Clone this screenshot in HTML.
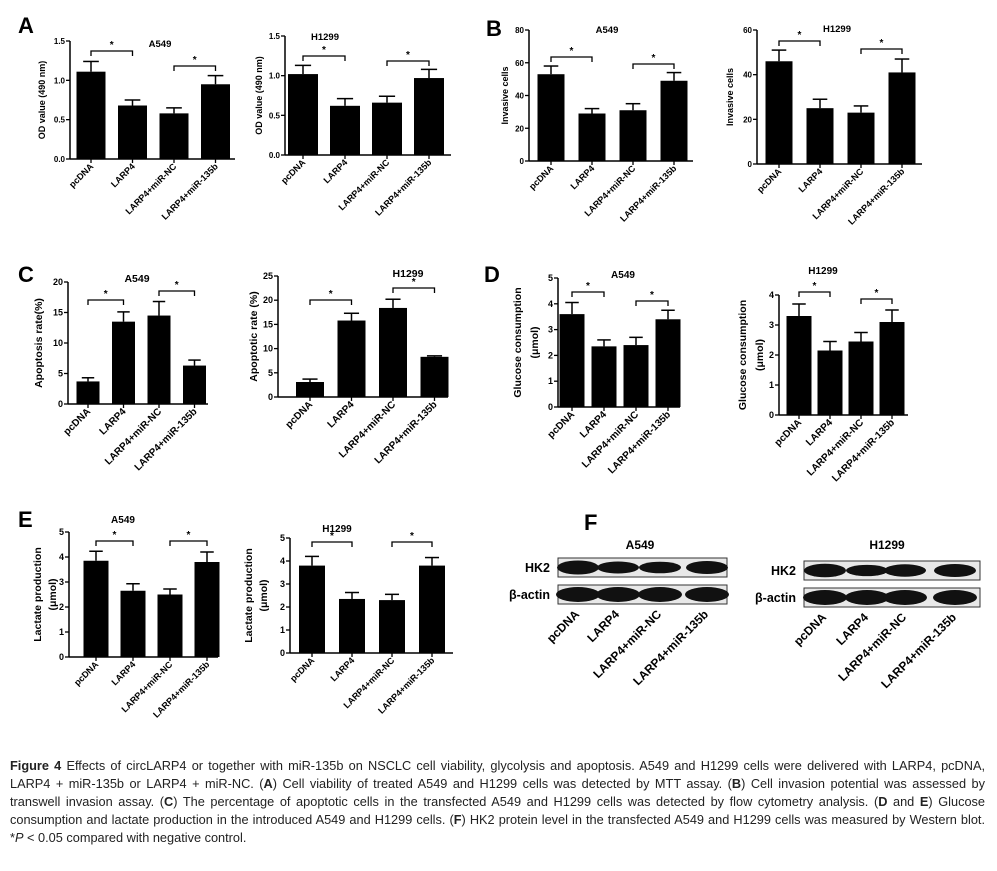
<!DOCTYPE html>
<html><head><meta charset="utf-8">
<style>
body{margin:0;width:997px;height:871px;background:#fff;overflow:hidden;font-family:"Liberation Sans",Arial,sans-serif;}
svg{position:absolute;left:0;top:0}
#cap{position:absolute;left:10px;top:757px;width:975px;font-size:12.75px;line-height:18px;color:#222;text-align:justify;}
</style></head><body>
<svg id="fig" width="997" height="760" xmlns="http://www.w3.org/2000/svg" font-family="Liberation Sans, Arial, sans-serif"></svg>
<div id="cap"><b>Figure 4</b> Effects of circLARP4 or together with miR-135b on NSCLC cell viability, glycolysis and apoptosis. A549 and H1299 cells were delivered with LARP4, pcDNA, LARP4 + miR-135b or LARP4 + miR-NC. (<b>A</b>) Cell viability of treated A549 and H1299 cells was detected by MTT assay. (<b>B</b>) Cell invasion potential was assessed by transwell invasion assay. (<b>C</b>) The percentage of apoptotic cells in the transfected A549 and H1299 cells was detected by flow cytometry analysis. (<b>D</b> and <b>E</b>) Glucose consumption and lactate production in the introduced A549 and H1299 cells. (<b>F</b>) HK2 protein level in the transfected A549 and H1299 cells was measured by Western blot. *<i>P</i> &lt; 0.05 compared with negative control.</div>
<script>
const categories = ["pcDNA","LARP4","LARP4+miR-NC","LARP4+miR-135b"];
const aA549 = [1.11,0.68,0.58,0.95];      const aA549Err = [0.13,0.07,0.07,0.11];
const aH1299 = [1.02,0.62,0.66,0.97];     const aH1299Err = [0.11,0.09,0.08,0.11];
const bA549 = [53,29,31,49];              const bA549Err = [5,3,4,5];
const bH1299 = [46,25,23,41];             const bH1299Err = [5,4,3,6];
const cA549 = [3.7,13.5,14.5,6.3];        const cA549Err = [0.6,1.6,2.3,0.9];
const cH1299 = [3.1,15.8,18.4,8.3];       const cH1299Err = [0.6,1.5,1.8,0.2];
const dA549 = [3.6,2.35,2.4,3.4];         const dA549Err = [0.45,0.25,0.3,0.35];
const dH1299 = [3.3,2.15,2.45,3.1];       const dH1299Err = [0.4,0.3,0.3,0.4];
const eA549 = [3.85,2.65,2.5,3.8];        const eA549Err = [0.38,0.28,0.22,0.4];
const eH1299 = [3.8,2.35,2.3,3.8];        const eH1299Err = [0.4,0.28,0.25,0.35];
const ticksA = [0,0.5,1.0,1.5]; const ticksAL = ["0.0","0.5","1.0","1.5"];
const ticksB1 = [0,20,40,60,80]; const ticksB2 = [0,20,40,60];
const ticksC1 = [0,5,10,15,20]; const ticksC2 = [0,5,10,15,20,25];
const ticksD1 = [0,1,2,3,4,5]; const ticksD2 = [0,1,2,3,4]; const ticksE = [0,1,2,3,4,5];

const NS='http://www.w3.org/2000/svg';
const svg=document.getElementById('fig');
function mk(tag,attrs,parent,text){const e=document.createElementNS(NS,tag);for(const k in attrs)e.setAttribute(k,attrs[k]);if(text!==undefined)e.textContent=text;(parent||svg).appendChild(e);return e;}

function chart(o){
  const g=mk('g',{});
  
  
  const y=v=>o.zero-(v/o.max)*(o.zero-o.top);
  const x=i=>o.first+i*o.step;
  const ax=mk('line',{x1:o.ax,y1:o.top,x2:o.ax,y2:o.zero,stroke:'#000','stroke-width':1.5},g);
  
  const bx=mk('line',{x1:o.ax,y1:o.zero,x2:o.xEnd,y2:o.zero,stroke:'#000','stroke-width':1.5},g);
  
  o.ticks.forEach((t,i)=>{
    mk('line',{x1:o.ax-4,y1:y(t),x2:o.ax,y2:y(t),stroke:'#000','stroke-width':1.3},g);
    const tl=mk('text',{x:o.ax-5,y:y(t)+3,'text-anchor':'end','font-size':o.tfs||8,'font-weight':'bold'},g,o.tickLabels?o.tickLabels[i]:String(t));
    
  });
  o.vals.forEach((v,i)=>{
    const cx=x(i);
    mk('line',{x1:cx,y1:y(v),x2:cx,y2:y(v+o.err[i]),stroke:'#000','stroke-width':1.5},g);
    mk('line',{x1:cx-o.w*0.27,y1:y(v+o.err[i]),x2:cx+o.w*0.27,y2:y(v+o.err[i]),stroke:'#000','stroke-width':1.5},g);
    const r=mk('rect',{x:cx-o.w/2,y:y(v),width:o.w,height:o.zero-y(v),fill:'#000'},g);
    
    
    mk('line',{x1:cx,y1:o.zero,x2:cx,y2:o.zero+4,stroke:'#000','stroke-width':1.3},g);
    const lx=cx+3, ly=o.zero+8;
    const t=mk('text',{x:lx,y:ly,'text-anchor':'end','font-size':o.cfs||9,'font-weight':'bold',transform:`rotate(-45 ${lx} ${ly})`},g,categories[i]);
    
  });
  o.br.forEach(b=>{
    const x1=x(b[0]),x2=x(b[1]);
    mk('path',{d:`M${x1} ${b[2]+5}V${b[2]}H${x2}V${b[2]+5}`,fill:'none',stroke:'#000','stroke-width':1.3},g);
    const s=mk('text',{x:(x1+x2)/2,y:b[2]-3,'text-anchor':'middle','font-size':10,'font-weight':'bold'},g,'*');
    
  });
  const tt=mk('text',{x:o.tx,y:o.ty,'text-anchor':'middle','font-size':o.ttfs||9.5,'font-weight':'bold'},g,o.title);
  
  const cy=(o.top+o.zero)/2;
  o.ylab.forEach((l,k)=>{
    const lx=o.ylx[k];
    const yl=mk('text',{x:lx,y:cy,'text-anchor':'middle','font-size':o.yfs||9,'font-weight':'bold',transform:`rotate(-90 ${lx} ${cy})`},g,l);
    
  });
}
function letter(t,x,y){const e=mk('text',{x:x,y:y,'font-size':22,'font-weight':'bold'},svg,t);}

letter('A',18,33);letter('B',486,36);letter('C',18,282);letter('D',484,282);letter('E',18,527);letter('F',584,530);

chart({name:'chart-a-a549',ax:70,xEnd:235,top:41,zero:159,max:1.5,first:91,step:41.5,w:29,vals:aA549,err:aA549Err,ticks:ticksA,tickLabels:ticksAL,br:[[0,1,51],[2,3,66]],title:'A549',tx:160,ty:47,ylab:['OD value (490 nm)'],ylx:[45]});
chart({name:'chart-a-h1299',ax:285,xEnd:451,top:36,zero:155,max:1.5,first:303,step:42,w:30,vals:aH1299,err:aH1299Err,ticks:ticksA,tickLabels:ticksAL,br:[[0,1,56],[2,3,61]],title:'H1299',tx:325,ty:40,ylab:['OD value (490 nm)'],ylx:[262]});
chart({name:'chart-b-a549',ax:529,xEnd:693,top:30,zero:161,max:80,first:551,step:41,w:27,vals:bA549,err:bA549Err,ticks:ticksB1,br:[[0,1,57],[2,3,64]],title:'A549',tx:607,ty:33,ylab:['Invasive cells'],ylx:[508]});
chart({name:'chart-b-h1299',ax:757,xEnd:922,top:30,zero:164,max:60,first:779,step:41,w:27,vals:bH1299,err:bH1299Err,ticks:ticksB2,br:[[0,1,41],[2,3,49]],title:'H1299',tx:837,ty:32,ylab:['Invasive cells'],ylx:[733]});
chart({name:'chart-c-a549',ax:68,xEnd:208,top:282,zero:404,max:20,first:88,step:35.5,w:23,vals:cA549,err:cA549Err,ticks:ticksC1,br:[[0,1,300],[2,3,291]],title:'A549',tx:137,ty:282,ylab:['Apoptosis rate(%)'],ylx:[42],cfs:10,tfs:9,yfs:10.5,ttfs:10.5});
chart({name:'chart-c-h1299',ax:278,xEnd:448,top:276,zero:397,max:25,first:310,step:41.5,w:28,vals:cH1299,err:cH1299Err,ticks:ticksC2,br:[[0,1,300],[2,3,288]],title:'H1299',tx:408,ty:277,ylab:['Apoptotic rate (%)'],ylx:[257],cfs:10,tfs:9,yfs:10.5,ttfs:10.5});
chart({name:'chart-d-a549',ax:558,xEnd:680,top:278,zero:407,max:5,first:572,step:32,w:25,vals:dA549,err:dA549Err,ticks:ticksD1,br:[[0,1,292],[2,3,301]],title:'A549',tx:623,ty:278,ylab:['Glucose consumption','(μmol)'],ylx:[521,538],cfs:10,tfs:9,yfs:10.5,ttfs:10});
chart({name:'chart-d-h1299',ax:779,xEnd:908,top:295,zero:415,max:4,first:799,step:31,w:25,vals:dH1299,err:dH1299Err,ticks:ticksD2,br:[[0,1,292],[2,3,299]],title:'H1299',tx:823,ty:274,ylab:['Glucose consumption','(μmol)'],ylx:[746,763],cfs:10,tfs:9,yfs:10.5,ttfs:10});
chart({name:'chart-e-a549',ax:69,xEnd:218,top:532,zero:657,max:5,first:96,step:37,w:25,vals:eA549,err:eA549Err,ticks:ticksE,br:[[0,1,541],[2,3,541]],title:'A549',tx:123,ty:523,ylab:['Lactate production','(μmol)'],ylx:[41,56],cfs:9,tfs:9,yfs:10.5,ttfs:10});
chart({name:'chart-e-h1299',ax:290,xEnd:453,top:538,zero:653,max:5,first:312,step:40,w:26,vals:eH1299,err:eH1299Err,ticks:ticksE,br:[[0,1,542],[2,3,542]],title:'H1299',tx:337,ty:532,ylab:['Lactate production','(μmol)'],ylx:[252,267],cfs:9,tfs:9,yfs:10.5,ttfs:10});

const hkA=[1.0,0.65,0.6,0.85], hkH=[0.9,0.55,0.75,0.85];
function blot(name,x1,x2,r1,r2,bands,hk,title,tx){
  const g=mk('g',{});
  [[r1,hk,'HK2'],[r2,[1,1,1,1],'β-actin']].forEach(([ry,int,lab],ri)=>{
    const b=mk('rect',{x:x1,y:ry,width:x2-x1,height:19,fill:'#e8e8e8',stroke:'#333','stroke-width':1},g);
    
    bands.forEach((bx,i)=>{
      const e=mk('ellipse',{cx:bx,cy:ry+9.5,rx:ri?22:21,ry:(ri?7.5:4+3*int[i]),fill:'#111'},g);
      
    });
    const t=mk('text',{x:x1-8,y:ry+14,'text-anchor':'end','font-size':12.5,'font-weight':'bold'},g,lab);
    
  });
  const t=mk('text',{x:tx,y:549,'text-anchor':'middle','font-size':12,'font-weight':'bold'},g,title);
  
  bands.forEach((bx,i)=>{
    const lx=bx+2,ly=r2+30;
    const c=mk('text',{x:lx,y:ly,'text-anchor':'end','font-size':12,'font-weight':'bold',transform:`rotate(-45 ${lx} ${ly})`},g,categories[i]);
    
  });
}
blot('western-blot-a549',558,727,558,585,[578,618,660,707],hkA,'A549',640);
blot('western-blot-h1299',804,980,561,588,[825,867,905,955],hkH,'H1299',887);
</script>
</body></html>
